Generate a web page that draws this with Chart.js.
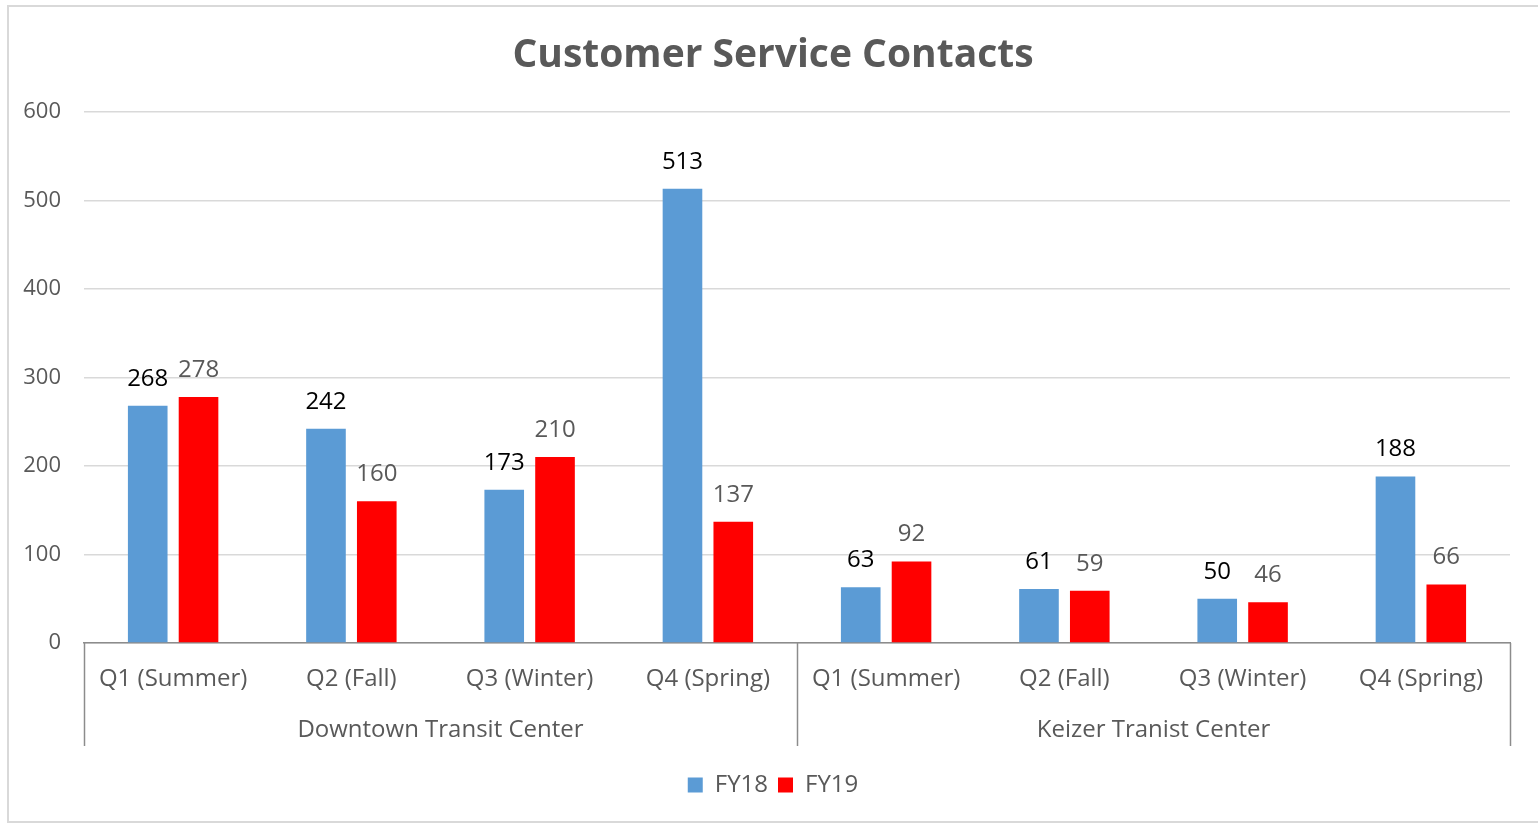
<!DOCTYPE html>
<html>
<head>
<meta charset="utf-8">
<script src="https://cdn.jsdelivr.net/npm/chart.js@4/dist/chart.umd.min.js"></script>
<style>
  html, body { margin: 0; padding: 0; background: #fff; }
  #wrap { position: relative; width: 1538px; height: 824px; }
</style>
</head>
<body>
<div id="wrap"><canvas id="grafico" width="1538" height="824"></canvas></div>
<script>
// dados
const trimestres = ["Q1 (Summer)", "Q2 (Fall)", "Q3 (Winter)", "Q4 (Spring)",
                    "Q1 (Summer)", "Q2 (Fall)", "Q3 (Winter)", "Q4 (Spring)"];
const grupos = ["Downtown Transit Center", "Keizer Tranist Center"];
const tamanhoGrupo = 4;
const fy18 = [268, 242, 173, 513, 63, 61, 50, 188];
const fy19 = [278, 160, 210, 137, 92, 59, 46, 66];
const ticksY = [0, 100, 200, 300, 400, 500, 600];

const COR_AZUL = "#5B9BD5";
const COR_VERM = "#FF0000";
const CINZA = "#595959";
const FONTE = "'Open Sans', sans-serif";

// rótulos em cima das barras
const rotulos = {
    id: "rotulos",
    afterDatasetsDraw(chart) {
        const ctx = chart.ctx;
        ctx.save();
        ctx.font = "24px " + FONTE;
        ctx.textAlign = "center";
        ctx.textBaseline = "middle";
        chart.data.datasets.forEach((ds, i) => {
            const meta = chart.getDatasetMeta(i);
            ctx.fillStyle = i === 0 ? "#000000" : CINZA;
            meta.data.forEach((el, j) => {
                ctx.fillText(String(ds.data[j]), el.x, el.y - 27);
            });
        });
        ctx.restore();
    }
};

// eixo com dois níveis + moldura
const eixoGrupos = {
    id: "eixoGrupos",
    afterDraw(chart) {
        const ctx = chart.ctx;
        const x = chart.scales.x;
        const base = chart.chartArea.bottom;
        ctx.save();
        // moldura
        ctx.strokeStyle = "#d9d9d9";
        ctx.lineWidth = 2;
        ctx.strokeRect(8, 6, 1540, 816);

        const divs = [x.left];
        for (let g = 1; g < grupos.length; g++) {
            const k = g * tamanhoGrupo;
            divs.push((x.getPixelForValue(k - 1) + x.getPixelForValue(k)) / 2);
        }
        divs.push(x.right);

        ctx.strokeStyle = "#8c8c8c";
        ctx.lineWidth = 1.5;
        divs.forEach(px => {
            ctx.beginPath();
            ctx.moveTo(Math.round(px) + 0.5, base);
            ctx.lineTo(Math.round(px) + 0.5, base + 103);
            ctx.stroke();
        });

        ctx.fillStyle = CINZA;
        ctx.font = "24px " + FONTE;
        ctx.textAlign = "center";
        ctx.textBaseline = "middle";
        grupos.forEach((g, i) => {
            ctx.fillText(g, (divs[i] + divs[i + 1]) / 2, base + 87);
        });
        ctx.restore();
    }
};

new Chart(document.getElementById("grafico"), {
    type: "bar",
    data: {
        labels: trimestres,
        datasets: [
            { label: "FY18", data: fy18, backgroundColor: COR_AZUL },
            { label: "FY19", data: fy19, backgroundColor: COR_VERM }
        ]
    },
    options: {
        responsive: false,
        animation: false,
        categoryPercentage: 0.57,
        barPercentage: 0.78,
        layout: { padding: { left: 8, right: 0, top: 0, bottom: 17 } },
        plugins: {
            title: {
                display: true,
                text: "Customer Service Contacts",
                color: CINZA,
                font: { family: FONTE, size: 39, weight: "bold" },
                padding: { top: 32, bottom: 33 }
            },
            legend: {
                position: "bottom",
                labels: {
                    boxWidth: 15,
                    boxHeight: 15,
                    color: CINZA,
                    font: { family: FONTE, size: 24 }
                }
            },
            tooltip: { enabled: false }
        },
        scales: {
            x: {
                grid: { display: false, drawTicks: false },
                border: { display: true, color: "#8c8c8c", width: 1.5 },
                ticks: {
                    color: CINZA,
                    font: { family: FONTE, size: 24 },
                    padding: 22,
                    maxRotation: 0,
                    autoSkip: false
                },
                afterFit: s => { s.height = 120; }
            },
            y: {
                min: 0,
                max: 600,
                afterBuildTicks: s => { s.ticks = ticksY.map(v => ({ value: v })); },
                grid: { color: "#d9d9d9", lineWidth: 1.5, drawTicks: false },
                border: { display: false },
                ticks: {
                    color: CINZA,
                    font: { family: FONTE, size: 22 },
                    padding: 23
                },
                afterFit: s => { s.width = 76; }
            },
            // margem direita vazia
            yDir: {
                position: "right",
                grid: { display: false, drawTicks: false },
                border: { display: false },
                ticks: { display: false },
                afterFit: s => { s.width = 28; }
            }
        }
    },
    plugins: [rotulos, eixoGrupos]
});
</script>
</body>
</html>
